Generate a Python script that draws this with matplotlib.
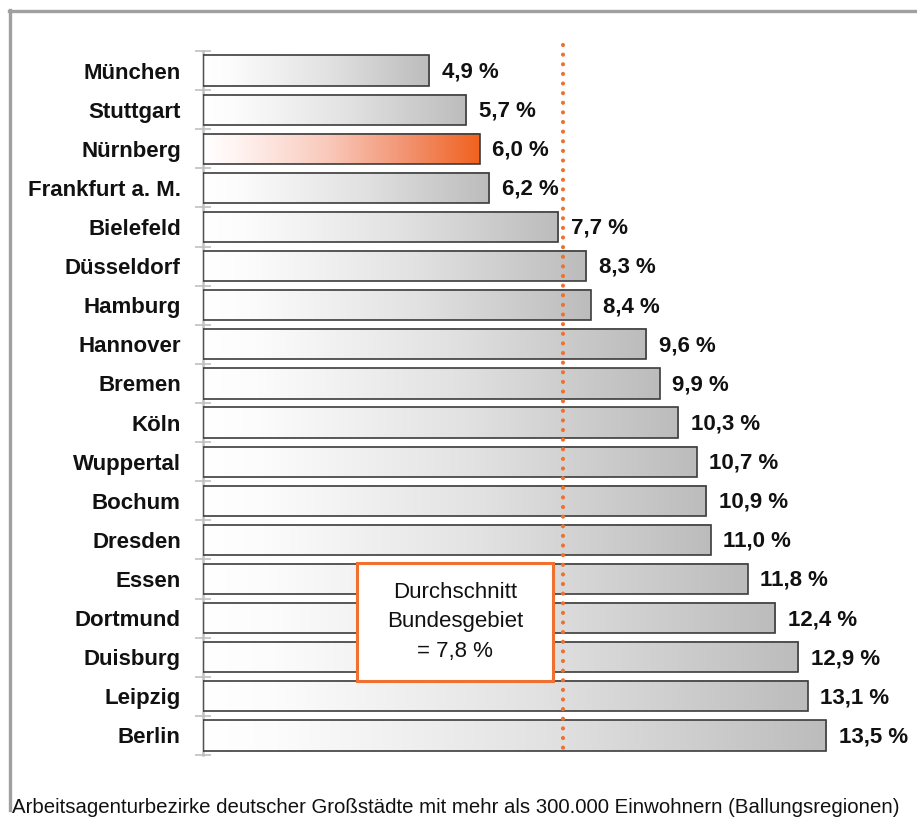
import matplotlib
matplotlib.use("Agg")
import matplotlib.pyplot as plt
import numpy as np
from matplotlib import font_manager
from matplotlib.colors import LinearSegmentedColormap
from matplotlib.patches import Rectangle
from matplotlib.lines import Line2D

cities = ["München", "Stuttgart", "Nürnberg", "Frankfurt a. M.", "Bielefeld",
          "Düsseldorf", "Hamburg", "Hannover", "Bremen", "Köln", "Wuppertal",
          "Bochum", "Dresden", "Essen", "Dortmund", "Duisburg", "Leipzig", "Berlin"]
values = [4.9, 5.7, 6.0, 6.2, 7.7, 8.3, 8.4, 9.6, 9.9, 10.3, 10.7, 10.9, 11.0,
          11.8, 12.4, 12.9, 13.1, 13.5]
value_labels = ["4,9 %", "5,7 %", "6,0 %", "6,2 %", "7,7 %", "8,3 %", "8,4 %",
                "9,6 %", "9,9 %", "10,3 %", "10,7 %", "10,9 %", "11,0 %",
                "11,8 %", "12,4 %", "12,9 %", "13,1 %", "13,5 %"]
highlight = "Nürnberg"
average = 7.8
box_text = "Durchschnitt\nBundesgebiet\n= 7,8 %"
footer = "Arbeitsagenturbezirke deutscher Großstädte mit mehr als 300.000 Einwohnern (Ballungsregionen)"

names = {f.name for f in font_manager.fontManager.ttflist}
fam = "Liberation Sans Narrow" if "Liberation Sans Narrow" in names else "Liberation Sans"
plt.rcParams["font.family"] = [fam, "DejaVu Sans"]

W, H = 917, 821
fig = plt.figure(figsize=(W / 100, H / 100), dpi=100)
ax_l, ax_r, ax_t, ax_b = 203, 880, 51, 755
ax = fig.add_axes([ax_l / W, 1 - ax_b / H, (ax_r - ax_l) / W, (ax_b - ax_t) / H])

xmax = 14.67
gray_cmap = LinearSegmentedColormap.from_list(
    "g", [(0, "#ffffff"), (0.12, "#fcfcfc"), (0.55, "#e2e2e2"), (1.0, "#bcbcbc")])
orange_cmap = LinearSegmentedColormap.from_list(
    "o", [(0, "#ffffff"), (0.12, "#fff4f2"), (0.45, "#f9c9bb"), (0.75, "#f2906c"), (1.0, "#f0621f")])

grad = np.linspace(0, 1, 256).reshape(1, -1)
bh = 0.77
for i, (c, v) in enumerate(zip(cities, values)):
    cmap = orange_cmap if c == highlight else gray_cmap
    ax.imshow(grad, cmap=cmap, aspect="auto", extent=[0, v, i + bh / 2, i - bh / 2],
              interpolation="bicubic", zorder=2)
    ax.add_patch(Rectangle((0, i - bh / 2), v, bh, fill=False,
                           edgecolor="#3c3c3c", linewidth=1.2, zorder=3))
    ax.annotate(value_labels[i], (v, i), xytext=(9, -1), textcoords="offset points",
                ha="left", va="center", fontsize=16, fontweight="bold",
                color="#111111", annotation_clip=False)

ax.set_xlim(0, xmax)
ax.set_ylim(len(cities) - 0.5, -0.5)

# average dotted line
ax.add_line(Line2D([average, average], [-0.65, len(cities) - 0.5], color="#f07030",
                   linewidth=3.0, linestyle=(0, (0.01, 2.3)), solid_capstyle="round",
                   dash_capstyle="round", clip_on=False, zorder=4))

for s in ["top", "right", "bottom"]:
    ax.spines[s].set_visible(False)
ax.spines["left"].set_color("#c0c0c0")
ax.spines["left"].set_linewidth(1.8)
ax.set_xticks([])
ax.set_yticks(range(len(cities)))
ax.set_yticklabels(cities, fontsize=16, fontweight="bold", color="#111111")
ax.tick_params(axis="y", which="major", length=0, pad=16)
ax.set_yticks(np.arange(-0.5, len(cities), 1.0), minor=True)
ax.tick_params(axis="y", which="minor", direction="inout", length=12,
               width=1.2, color="#c0c0c0")
ax.patch.set_alpha(0)

# average box (in figure pixel coords)
bx0, bx1, by0, by1 = 357, 553, 563, 681
fig.patches.append(Rectangle((bx0 / W, 1 - by1 / H), (bx1 - bx0) / W, (by1 - by0) / H,
                             transform=fig.transFigure, facecolor="white",
                             edgecolor="#f07030", linewidth=2.2, zorder=5))
fig.text((bx0 + bx1) / 2 / W, 1 - (by0 + by1) / 2 / H, box_text, ha="center",
         va="center", fontsize=16, linespacing=1.55, color="#111111", zorder=6)

# outer border (top and left)
fig.add_artist(Line2D([8.5 / W, 1.0], [1 - 11.5 / H, 1 - 11.5 / H], transform=fig.transFigure,
                      color="#a0a0a0", linewidth=2.4))
fig.add_artist(Line2D([9.5 / W, 9.5 / W], [1 - 10.5 / H, 1 - 810 / H], transform=fig.transFigure,
                      color="#a0a0a0", linewidth=2.4))

fig.text(12 / W, 1 - 807 / H, footer, ha="left", va="center", fontsize=14.65, color="#111111")

fig.savefig("out.png", dpi=100)
